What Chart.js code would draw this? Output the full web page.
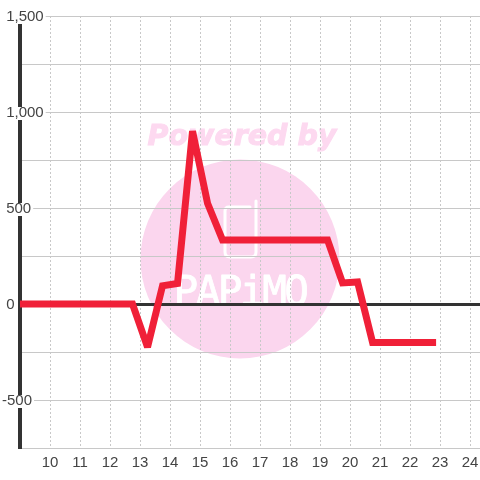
<!DOCTYPE html>
<html>
<head>
<meta charset="utf-8">
<style>
    html, body { margin: 0; padding: 0; background: #fff; }
    #wrap { width: 480px; height: 480px; }
</style>
<script src="https://cdn.jsdelivr.net/npm/chart.js@4"></script>
</head>
<body>
<div id="wrap"><canvas id="chart" width="480" height="480"></canvas></div>
<script>
const hours = [8.75, 9.25, 9.75, 10.25, 10.75, 11.25, 11.75, 12.25, 12.75, 13.25, 13.75, 14.25, 14.75, 15.25, 15.75, 16.25, 16.75, 17.25, 17.75, 18.25, 18.75, 19.25, 19.75, 20.25, 20.75, 21.25, 21.75, 22.25, 22.75];
const values = [0, 0, 0, 0, 0, 0, 0, 0, 0, -225, 95, 107, 900, 525, 333, 333, 333, 333, 333, 333, 333, 333, 110, 115, -200, -200, -200, -200, -200];
const xTicks = [10, 11, 12, 13, 14, 15, 16, 17, 18, 19, 20, 21, 22, 23, 24];
const yTicks = [-750, -500, -250, 0, 250, 500, 750, 1000, 1250, 1500];
const yTickLabels = ['', '-500', '', '0', '', '500', '', '1,000', '', '1,500'];

const FONT = '"Liberation Sans", Arial, sans-serif';
const GRID = '#c8c8c8';
const AXIS = '#333333';

// the "Powered by" watermark sits behind the grid
const watermark = {
    id: 'watermark',
    beforeDraw(c) {
        const ctx = c.ctx;
        ctx.save();
        ctx.fillStyle = '#fbd6ee';
        ctx.beginPath();
        ctx.arc(240, 259, 99.5, 0, Math.PI * 2);
        ctx.fill();

        ctx.fillStyle = '#fdd9f0';
        ctx.strokeStyle = '#fdd9f0';
        ctx.lineWidth = 1;
        ctx.font = 'italic bold 28.5px "DejaVu Sans"';
        ctx.textAlign = 'center';
        ctx.textBaseline = 'alphabetic';
        ctx.fillText('Powered by', 242, 145);
        ctx.strokeText('Powered by', 242, 145);

        // phone outline
        ctx.strokeStyle = '#ffffff';
        ctx.lineWidth = 3;
        ctx.lineJoin = 'round';
        ctx.lineCap = 'round';
        ctx.beginPath();
        ctx.moveTo(250, 207);
        ctx.lineTo(229, 207);
        ctx.quadraticCurveTo(225, 207, 225, 211);
        ctx.lineTo(225, 252);
        ctx.quadraticCurveTo(225, 257, 230, 257);
        ctx.lineTo(251, 257);
        ctx.quadraticCurveTo(256, 257, 256, 252);
        ctx.lineTo(256, 201);
        ctx.stroke();

        ctx.fillStyle = '#ffffff';
        ctx.strokeStyle = '#ffffff';
        ctx.lineWidth = 0.8;
        ctx.font = '41px "DejaVu Sans Mono"';
        ctx.letterSpacing = '-2.5px';
        ctx.fillText('PAPiMO', 240, 305);
        ctx.strokeText('PAPiMO', 240, 305);
        ctx.restore();
    },
    beforeDatasetsDraw(c) {
        c.ctx.miterLimit = 2;
    }
};

const chart = new Chart(document.getElementById('chart'), {
    type: 'line',
    data: {
        datasets: [{
            data: hours.map((h, i) => ({ x: h, y: values[i] })),
            borderColor: '#f02038',
            borderWidth: 7,
            borderJoinStyle: 'miter',
            borderCapStyle: 'square',
            pointRadius: 0,
            tension: 0
        }]
    },
    options: {
        responsive: false,
        animation: false,
        layout: { padding: { left: 20, top: 16, right: 0, bottom: 0 } },
        plugins: { legend: { display: false }, tooltip: { enabled: false } },
        scales: {
            x: {
                type: 'linear',
                min: 9,
                max: 24.33,
                afterBuildTicks: s => { s.ticks = xTicks.map(v => ({ value: v })); },
                afterFit: s => {
                    s.height = 32;
                    s.paddingLeft = 0;
                    s.paddingRight = 0;
                },
                grid: { color: GRID, lineWidth: 1, drawTicks: false },
                border: { display: false, dash: [2, 2] },
                ticks: {
                    autoSkip: false,
                    maxRotation: 0,
                    padding: 6,
                    color: '#444444',
                    font: { family: FONT, size: 15 }
                }
            },
            y: {
                min: -750,
                max: 1500,
                afterBuildTicks: s => { s.ticks = yTicks.map(v => ({ value: v })); },
                afterFit: s => {
                    s.width = 0;
                    s.paddingTop = 0;
                    s.paddingBottom = 0;
                },
                grid: {
                    color: ctx => ctx.tick && ctx.tick.value === 0 ? AXIS : GRID,
                    lineWidth: ctx => ctx.tick && ctx.tick.value === 0 ? 3 : 1,
                    drawTicks: false
                },
                border: { color: AXIS, width: 4 },
                ticks: {
                    autoSkip: false,
                    mirror: true,
                    padding: -18,
                    labelOffset: 1,
                    color: '#444444',
                    font: { family: FONT, size: 15, lineHeight: 1 },
                    showLabelBackdrop: true,
                    backdropColor: '#ffffff',
                    backdropPadding: { top: -1.5, bottom: -0.5, left: 0, right: 2 },
                    callback: v => {
                        const label = yTickLabels[yTicks.indexOf(v)];
                        if (!label) return '';
                        // negative labels hang their sign out to the left
                        return label[0] === '-' ? label : ' ' + label;
                    }
                }
            }
        }
    },
    plugins: [watermark]
});
</script>
</body>
</html>
